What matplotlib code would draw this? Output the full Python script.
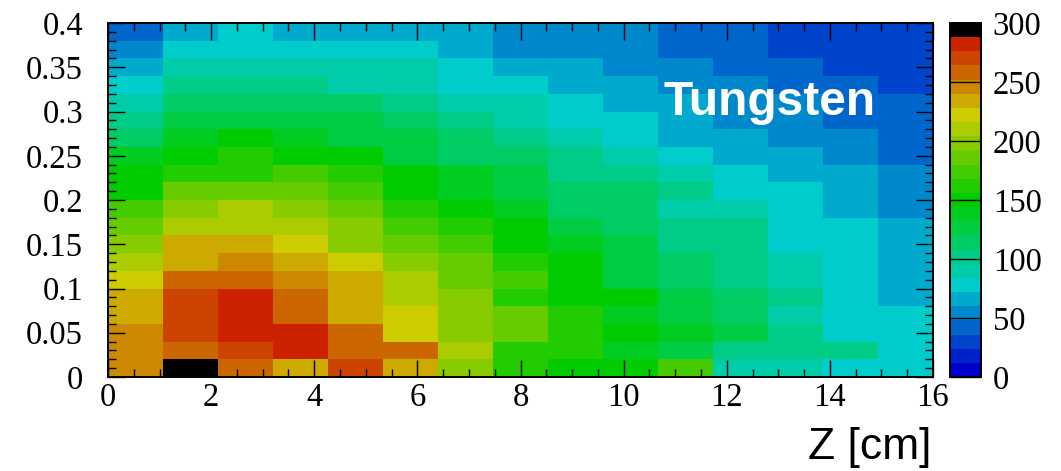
import numpy as np
import matplotlib
matplotlib.use("Agg")
import matplotlib.pyplot as plt
from matplotlib.colors import ListedColormap, BoundaryNorm
from matplotlib.ticker import MultipleLocator

# ---- data -------------------------------------------------------------
# x: Z [cm], 15 bins from 0 to 16 ; y: 20 bins from 0 to 0.4
x_edges = np.linspace(0, 16, 16)
y_edges = np.linspace(0, 0.4, 21)

# cell values (rows from bottom y=0 to top y=0.4, columns Z=0..16)
row00 = [246, 294, 258, 234, 270, 234, 198, 162, 150, 150, 174,  90,  90,  78,  78]
row01 = [246, 258, 270, 282, 258, 258, 210, 162, 162, 138, 126, 102, 102, 102,  78]
row02 = [246, 270, 282, 282, 258, 222, 198, 186, 162, 150, 138, 126, 102,  78,  78]
row03 = [234, 270, 282, 258, 234, 222, 198, 186, 162, 138, 126, 114,  90,  78,  78]
row04 = [234, 270, 282, 258, 234, 210, 198, 162, 150, 150, 126, 114, 102,  78,  66]
row05 = [222, 258, 258, 246, 234, 210, 186, 174, 150, 126, 114, 102,  90,  78,  66]
row06 = [210, 234, 246, 234, 222, 198, 186, 162, 150, 126, 114, 102,  90,  78,  66]
row07 = [198, 234, 234, 222, 198, 186, 174, 150, 138, 126, 102, 102,  78,  78,  66]
row08 = [186, 210, 210, 210, 198, 174, 162, 150, 126, 114, 102, 102,  78,  78,  66]
row09 = [174, 198, 210, 198, 186, 162, 150, 138, 114, 114,  90,  90,  78,  66,  54]
row10 = [150, 186, 186, 186, 174, 150, 138, 126, 114, 114, 102,  78,  78,  66,  54]
row11 = [150, 162, 162, 174, 162, 150, 138, 126, 102, 102,  90,  78,  66,  66,  54]
row12 = [138, 150, 162, 150, 150, 126, 114, 114, 102,  90,  78,  66,  66,  54,  42]
row13 = [114, 138, 150, 138, 126, 126, 114, 102,  90,  78,  66,  66,  54,  54,  42]
row14 = [102, 126, 126, 126, 126, 114, 102,  90,  78,  78,  66,  54,  54,  42,  42]
row15 = [ 90, 114, 114, 114, 114, 102,  90,  90,  78,  66,  66,  54,  54,  42,  42]
row16 = [ 78, 102, 102, 102,  90,  90,  78,  78,  66,  66,  54,  54,  42,  42,  30]
row17 = [ 66,  90,  90,  90,  90,  90,  78,  66,  66,  54,  54,  42,  42,  30,  30]
row18 = [ 54,  78,  78,  78,  78,  78,  66,  54,  54,  54,  42,  42,  30,  30,  30]
row19 = [ 42,  66,  78,  66,  66,  66,  66,  54,  54,  54,  42,  42,  30,  30,  30]

x_ticks = [0, 2, 4, 6, 8, 10, 12, 14, 16]
y_ticks = [0, 0.05, 0.1, 0.15, 0.2, 0.25, 0.3, 0.35, 0.4]
y_tick_labels = ["0", "0.05", "0.1", "0.15", "0.2", "0.25", "0.3", "0.35", "0.4"]
cb_ticks = [0, 50, 100, 150, 200, 250, 300]

palette = ["#0000CC", "#0022CC", "#0044CC", "#0066CC", "#0088CC", "#00AACC",
           "#00CCCC", "#00CCAA", "#00CC88", "#00CC66", "#00CC44", "#00CC22",
           "#00CC00", "#22CC00", "#44CC00", "#66CC00", "#88CC00", "#AACC00",
           "#CCCC00", "#CCAA00", "#CC8800", "#CC6600", "#CC4400", "#CC2200",
           "#000000"]

Z = np.array([row00, row01, row02, row03, row04, row05, row06, row07, row08, row09,
              row10, row11, row12, row13, row14, row15, row16, row17, row18, row19])

# ---- figure -----------------------------------------------------------
W, H = 1061, 471
fig = plt.figure(figsize=(W / 100, H / 100), dpi=100)
ax = fig.add_axes([108 / W, (H - 377) / H, 825 / W, 354 / H])
cax = fig.add_axes([950 / W, (H - 377) / H, 31 / W, 354 / H])

cmap = ListedColormap(palette)
norm = BoundaryNorm(np.linspace(0, 300, len(palette) + 1), len(palette))
mesh = ax.pcolormesh(x_edges, y_edges, Z, cmap=cmap, norm=norm)

serif = ["Liberation Serif", "DejaVu Serif"]
ax.set_xlim(0, 16)
ax.set_ylim(0, 0.4)
ax.set_xticks(x_ticks)
ax.set_xticklabels([str(t) for t in x_ticks], fontfamily=serif, fontsize=23.5)
ax.set_yticks(y_ticks)
ax.set_yticklabels(y_tick_labels, fontfamily=serif, fontsize=23.5)
ax.xaxis.set_minor_locator(MultipleLocator(0.5))
ax.yaxis.set_minor_locator(MultipleLocator(0.01))
ax.tick_params(which="both", direction="in", top=True, right=True, color="black", width=1.0)
ax.tick_params(which="major", length=12)
ax.tick_params(which="minor", length=5.8)
ax.tick_params(axis="x", which="major", pad=4)
ax.tick_params(axis="y", which="major", pad=18)
for s in ax.spines.values():
    s.set_linewidth(1.4)

ax.text(10.77, 0.2958, "Tungsten", color="white", fontweight="bold",
        fontfamily=["Liberation Sans", "DejaVu Sans"], fontsize=34.5, va="baseline", ha="left")

cb = fig.colorbar(mesh, cax=cax, ticks=cb_ticks)
cb.ax.set_yticklabels([str(t) for t in cb_ticks], fontfamily=serif, fontsize=23.5)
cb.ax.tick_params(direction="in", length=22, width=1.0, pad=8.5, color="black")
cb.ax.minorticks_off()
cb.outline.set_linewidth(1.4)

fig.text(931 / W, (H - 459) / H, "Z [cm]", fontfamily=["Liberation Sans", "DejaVu Sans"],
         fontsize=32, ha="right", va="baseline")

fig.savefig("out.png", dpi=100)
